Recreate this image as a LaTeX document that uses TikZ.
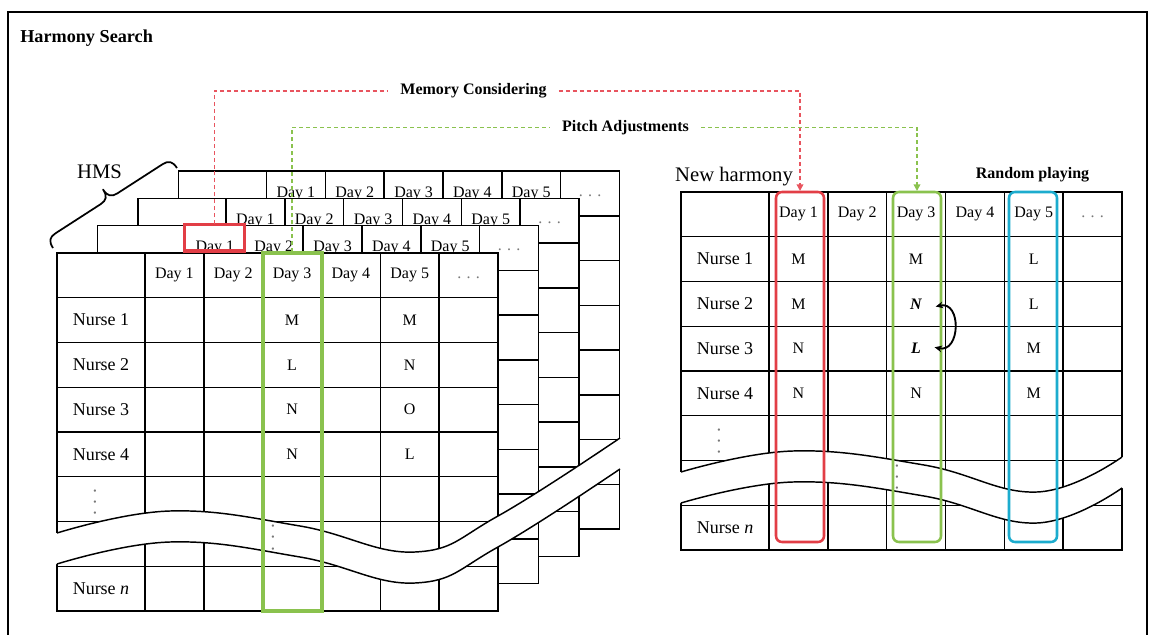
\documentclass[tikz,border=0pt]{standalone}
\usepackage{fontspec}
\setmainfont{Liberation Serif}
\usetikzlibrary{arrows.meta}
\definecolor{hsred}{RGB}{226,62,70}
\definecolor{hsredd}{RGB}{232,84,94}
\definecolor{hsgreen}{RGB}{138,194,78}
\definecolor{hscyan}{RGB}{28,172,206}
\definecolor{dotgray}{RGB}{120,120,120}
\newcommand\fsz[1]{\fontsize{#1}{#1}\selectfont}
% grid of one schedule table, origin at top-left corner
\newcommand\hstable[3]{%
\begin{scope}[shift={(#1,#2)}]
\fill[white] (0,0) rectangle (441,358);
\foreach \r in {1,...,7}{\draw[tbl] (0,\r*44.75) -- (441,\r*44.75);}
\foreach \c in {88,146.83,205.67,264.5,323.33,382.17}{\draw[tbl] (\c,0) -- (\c,358);}
\draw[tbl] (0,0) rectangle (441,358);
\foreach \i in {1,...,5}{\node[daytxt] (#3d\i) at ({88+58.833*(\i-0.5)},22.4) {Day \i};}
\node[moretxt] (#3more) at ({88+58.833*5.5},24.5) {. . .};
\end{scope}}
\begin{document}
\begin{tikzpicture}[x=0.75pt,y=-0.75pt,
  tbl/.style={line width=1.1pt},
  daytxt/.style={font=\fsz{12},inner sep=0pt},
  moretxt/.style={font=\fsz{12},text=dotgray,inner sep=0pt},
  nursetxt/.style={font=\fsz{13.5},inner sep=1pt},
  celltxt/.style={font=\fsz{12},inner sep=2pt},
  vdotstxt/.style={font=\fsz{14.5},text=dotgray,rotate=90,inner sep=0pt},
  lbl/.style={font=\fsz{12}\bfseries,inner xsep=9pt,inner ysep=0pt},
  rdash/.style={draw=hsredd,line width=1.1pt,dash pattern=on 3pt off 2.2pt},
  gdash/.style={draw=hsgreen,line width=1.1pt,dash pattern=on 3pt off 2.2pt},
  arrowend/.style={-{Triangle[length=5pt,width=5pt]}},
  selbox/.style={line width=1.9pt,rounded corners=4.5pt}
]
\useasboundingbox (0,0) rectangle (1153,635);
\clip (0,0) rectangle (1153,635);
% outer frame
\draw[line width=1.5pt] (8,650) -- (8,12) -- (1147,12) -- (1147,650);
% titles
\node[font=\fsz{13.65}\bfseries,anchor=base west,inner sep=0pt] (title) at (20,43) {Harmony Search};
\node[font=\fsz{15.5},anchor=base,inner sep=0pt] (hms) at (99.5,178) {HMS};
% brace grouping the memory
\coordinate (brA) at (53,248);
\coordinate (brB) at (176.98,168);
\draw[line width=1.3pt,line join=round]
  (brA) .. controls (48.66,241.28) and (49.56,237.13) .. (55.44,233.34)
  -- (100.63,204.18) .. controls (106.51,200.39) and (107.40,196.24) .. (103.07,189.52)
  .. controls (107.40,196.24) and (111.55,197.13) .. (117.43,193.34)
  -- (162.62,164.18) .. controls (168.50,160.39) and (172.64,161.28) .. (brB);
% stacked harmony memory tables
\hstable{178.5}{171.1}{t3}
\hstable{138}{198.4}{t2}
\hstable{97.5}{225.7}{t1}
\hstable{57}{253}{t0}
% break band over the stack
\begin{scope}[shift={(57,253)}]
\fill[white] (-1.5,280) -- plot[smooth,tension=.7] coordinates {(0,280) (113,258) (243,273) (358,299) (441,263) (563,185)}
  -- (564.5,185) -- (564.5,216) -- plot[smooth,tension=.7] coordinates {(563,216) (441,294) (358,330) (243,304) (113,289) (0,311)} -- (-1.5,311) -- cycle;
\draw[tbl] plot[smooth,tension=.7] coordinates {(0,280) (113,258) (243,273) (358,299) (441,263) (563,185)};
\draw[tbl] plot[smooth,tension=.7] coordinates {(0,311) (113,289) (243,304) (358,330) (441,294) (563,216)};
% front table contents
\node[nursetxt] (f-n1) at (44,67.1) {Nurse 1};
\node[nursetxt] (f-n2) at (44,111.9) {Nurse 2};
\node[nursetxt] (f-n3) at (44,156.6) {Nurse 3};
\node[nursetxt] (f-n4) at (44,201.4) {Nurse 4};
\node[nursetxt] (f-nn) at (44,335.6) {Nurse \textit{n}};
\node[celltxt] (f-31) at (235.1,67.1) {M};
\node[celltxt] (f-32) at (235.1,111.9) {L};
\node[celltxt] (f-33) at (235.1,156.6) {N};
\node[celltxt] (f-34) at (235.1,201.4) {N};
\node[celltxt] (f-51) at (352.75,67.1) {M};
\node[celltxt] (f-52) at (352.75,111.9) {N};
\node[celltxt] (f-53) at (352.75,156.6) {O};
\node[celltxt] (f-54) at (352.75,201.4) {L};
\node[vdotstxt] (f-vd1) at (38,249) {. . .};
\node[vdotstxt] (f-vd2) at (216,284.5) {. . .};
\end{scope}
% selections in the memory
\draw[draw=hsred,line width=2.3pt] (184.5,224.5) rectangle (244.5,251);
\draw[draw=hsgreen,line width=3pt] (262.7,253) rectangle (321.5,611);
\coordinate (hmsred) at (214.5,224);
\coordinate (hmsgreen) at (292.1,252);
% new harmony table
\node[font=\fsz{15.5},anchor=base,inner sep=0pt] (newh) at (734,181) {New harmony};
\node[font=\fsz{12}\bfseries,anchor=base,inner sep=0pt] (rp) at (1032.5,178) {Random playing};
\hstable{681}{192}{r}
\begin{scope}[shift={(681,192)}]
\fill[white] (-1.5,280) -- plot[smooth,tension=.7] coordinates {(0,280) (112,259) (243,273) (356,300) (441,265)}
  -- (442.5,265) -- (442.5,296) -- plot[smooth,tension=.7] coordinates {(441,296) (356,331) (243,304) (112,290) (0,311)} -- (-1.5,311) -- cycle;
\draw[tbl] plot[smooth,tension=.7] coordinates {(0,280) (112,259) (243,273) (356,300) (441,265)};
\draw[tbl] plot[smooth,tension=.7] coordinates {(0,311) (112,290) (243,304) (356,331) (441,296)};
\node[nursetxt] (r-n1) at (44,67.1) {Nurse 1};
\node[nursetxt] (r-n2) at (44,111.9) {Nurse 2};
\node[nursetxt] (r-n3) at (44,156.6) {Nurse 3};
\node[nursetxt] (r-n4) at (44,201.4) {Nurse 4};
\node[nursetxt] (r-nn) at (44,335.6) {Nurse \textit{n}};
\node[celltxt] (r-11) at (117.4,67.1) {M};
\node[celltxt] (r-12) at (117.4,111.9) {M};
\node[celltxt] (r-13) at (117.4,156.6) {N};
\node[celltxt] (r-14) at (117.4,201.4) {N};
\node[celltxt] (r-31) at (235.1,67.1) {M};
\node[celltxt] (rN) at (235.1,111.9) {\textbf{\textit{N}}};
\node[celltxt] (rL) at (235.1,156.6) {\textbf{\textit{L}}};
\node[celltxt] (r-34) at (235.1,201.4) {N};
\node[celltxt] (r-51) at (352.75,67.1) {L};
\node[celltxt] (r-52) at (352.75,111.9) {L};
\node[celltxt] (r-53) at (352.75,156.6) {M};
\node[celltxt] (r-54) at (352.75,201.4) {M};
\node[vdotstxt] (r-vd1) at (38,249) {. . .};
\node[vdotstxt] (r-vd2) at (216,285) {. . .};
\end{scope}
\draw[selbox,draw=hsred] (776,192) rectangle (824,542);
\draw[selbox,draw=hsgreen] (893,192) rectangle (941,542);
\draw[selbox,draw=hscyan] (1009,192) rectangle (1057,542);
\coordinate (nhred) at (800,191);
\coordinate (nhgreen) at (917,191);
% pitch adjustment swap
\draw[line width=1.4pt,{Stealth[length=5.5pt,width=5pt]}-{Stealth[length=5.5pt,width=5pt]}]
  ([xshift=8pt,yshift=-2pt]rN.east) .. controls +(26,-6) and +(26,6) .. ([xshift=8pt,yshift=1pt]rL.east);
% operators
\node[lbl] (mc) at (473.5,91) {Memory Considering};
\node[lbl] (pa) at (625.5,127.5) {Pitch Adjustments};
\draw[rdash] (hmsred) |- (mc.west);
\draw[rdash,arrowend] (mc.east) -| (nhred);
\draw[gdash] (hmsgreen) |- (pa.west);
\draw[gdash,arrowend] (pa.east) -| (nhgreen);
\end{tikzpicture}
\end{document}
